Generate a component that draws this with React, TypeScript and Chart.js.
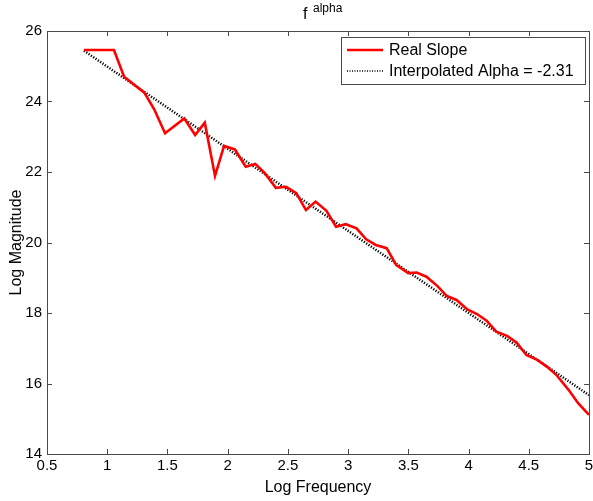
import React, { useEffect, useRef } from "react";
import { Chart, registerables } from "chart.js";

Chart.register(...registerables);

const realX = [0.807, 1.056, 1.14, 1.308, 1.39, 1.48, 1.64, 1.73, 1.81, 1.895, 1.97, 2.06, 2.15, 2.23, 2.31, 2.40, 2.485, 2.57, 2.65, 2.73, 2.82, 2.90, 2.98, 3.07, 3.15, 3.23, 3.32, 3.40, 3.50, 3.57, 3.65, 3.74, 3.82, 3.90, 3.99, 4.07, 4.15, 4.23, 4.32, 4.40, 4.48, 4.57, 4.65, 4.73, 4.83, 4.91, 5.0];
const realY = [25.46, 25.46, 24.70, 24.25, 23.78, 23.10, 23.52, 23.05, 23.40, 21.89, 22.74, 22.64, 22.15, 22.23, 21.96, 21.55, 21.58, 21.40, 20.92, 21.16, 20.90, 20.45, 20.52, 20.40, 20.09, 19.93, 19.84, 19.36, 19.13, 19.15, 19.03, 18.77, 18.48, 18.37, 18.10, 17.97, 17.78, 17.47, 17.35, 17.16, 16.81, 16.67, 16.48, 16.24, 15.82, 15.44, 15.11];
const fitX = [0.807, 5.0];
const fitY = [25.44, 15.67];
const xTicks = [0.5, 1, 1.5, 2, 2.5, 3, 3.5, 4, 4.5, 5];
const yTicks = [14, 16, 18, 20, 22, 24, 26];
const seriesLabels = ["Real Slope", "Interpolated Alpha = -2.31"];
const titleMain = "f";
const titleSup = "alpha";
const xLabel = "Log Frequency";
const yLabel = "Log Magnitude";

const FONT = "'Liberation Sans', Arial, sans-serif";

const decorPlugin = {
  id: "decor",
  afterDraw(chart: any) {
    const ctx = chart.ctx;
    const { left, right, top, bottom } = chart.chartArea;
    const xs = chart.scales.x;
    const ys = chart.scales.y;
    ctx.save();
    ctx.strokeStyle = "#4a4a4a";
    ctx.lineWidth = 1;
    const tl = 5;
    ctx.beginPath();
    xTicks.forEach((v) => {
      const px = Math.round(xs.getPixelForValue(v)) + 0.5;
      ctx.moveTo(px, bottom);
      ctx.lineTo(px, bottom - tl);
      ctx.moveTo(px, top);
      ctx.lineTo(px, top + tl);
    });
    yTicks.forEach((v) => {
      const py = Math.round(ys.getPixelForValue(v)) + 0.5;
      ctx.moveTo(left, py);
      ctx.lineTo(left + tl, py);
      ctx.moveTo(right, py);
      ctx.lineTo(right - tl, py);
    });
    ctx.stroke();
    ctx.strokeRect(Math.round(left) + 0.5, Math.round(top) + 0.5, Math.round(right - left), Math.round(bottom - top));

    // title
    const cx = (left + right) / 2;
    ctx.fillStyle = "#000";
    ctx.textBaseline = "alphabetic";
    ctx.textAlign = "left";
    ctx.font = `16px ${FONT}`;
    ctx.fillText(titleMain, cx - 15, 19);
    ctx.font = `12px ${FONT}`;
    ctx.fillText(titleSup, cx - 5, 12);

    // legend
    const bx = 341, by = 37, bw = 244, bh = 47;
    ctx.fillStyle = "#fff";
    ctx.fillRect(bx, by, bw, bh);
    ctx.strokeStyle = "#4a4a4a";
    ctx.strokeRect(bx + 0.5, by + 0.5, bw, bh);
    const rows = [50, 71];
    ctx.font = `16px ${FONT}`;
    ctx.textBaseline = "middle";
    rows.forEach((ry, i) => {
      ctx.beginPath();
      if (i === 0) {
        ctx.strokeStyle = "#ff0000";
        ctx.lineWidth = 2.5;
        ctx.setLineDash([]);
      } else {
        ctx.strokeStyle = "#000";
        ctx.lineWidth = 1.5;
        ctx.setLineDash([1, 1.5]);
      }
      ctx.moveTo(347, ry);
      ctx.lineTo(383, ry);
      ctx.stroke();
      ctx.setLineDash([]);
      ctx.fillStyle = "#000";
      ctx.fillText(seriesLabels[i], 389, ry + 1);
    });
    ctx.restore();
  },
};

export default function App() {
  const ref = useRef<HTMLCanvasElement>(null);
  useEffect(() => {
    if (!ref.current) return;
    const chart = new Chart(ref.current, {
      type: "line",
      data: {
        datasets: [
          {
            label: seriesLabels[0],
            data: realX.map((x, i) => ({ x, y: realY[i] })),
            borderColor: "#ff0000",
            borderWidth: 2.6,
            pointRadius: 0,
            tension: 0,
            fill: false,
          },
          {
            label: seriesLabels[1],
            data: fitX.map((x, i) => ({ x, y: fitY[i] })),
            borderColor: "#000000",
            borderWidth: 2.5,
            borderDash: [1.2, 1.6],
            pointRadius: 0,
            tension: 0,
            fill: false,
          },
        ],
      },
      options: {
        responsive: false,
        animation: false,
        devicePixelRatio: 1,
        layout: { padding: { top: 31, right: 4, left: 0, bottom: 0 } },
        plugins: { legend: { display: false }, tooltip: { enabled: false }, title: { display: false } },
        scales: {
          x: {
            type: "linear",
            min: 0.5,
            max: 5,
            afterBuildTicks: (s: any) => { s.ticks = xTicks.map((v) => ({ value: v })); },
            afterFit: (s: any) => { s.height = 47; s.paddingLeft = 0; s.paddingRight = 0; },
            ticks: { color: "#000", font: { family: FONT, size: 15 }, padding: 3, maxRotation: 0, autoSkip: false, callback: (v: any) => String(v) },
            grid: { display: false, drawTicks: false },
            border: { display: false },
            title: { display: true, text: xLabel, color: "#000", font: { family: FONT, size: 16 }, padding: { top: 0, bottom: 4 } },
          },
          y: {
            type: "linear",
            min: 14,
            max: 26,
            afterBuildTicks: (s: any) => { s.ticks = yTicks.map((v) => ({ value: v })); },
            afterFit: (s: any) => { s.width = 47; s.paddingTop = 0; s.paddingBottom = 0; },
            ticks: { color: "#000", font: { family: FONT, size: 15 }, padding: 5, autoSkip: false, callback: (v: any) => String(v) },
            grid: { display: false, drawTicks: false },
            border: { display: false },
            title: { display: true, text: yLabel, color: "#000", font: { family: FONT, size: 16 }, padding: { top: 7, bottom: 0 } },
          },
        },
      },
      plugins: [decorPlugin],
    });
    return () => chart.destroy();
  }, []);
  return (
    <div style={{ position: "absolute", left: 0, top: 0, width: 593, height: 501, background: "#fff" }}>
      <canvas ref={ref} width={593} height={501} style={{ display: "block" }} />
    </div>
  );
}
